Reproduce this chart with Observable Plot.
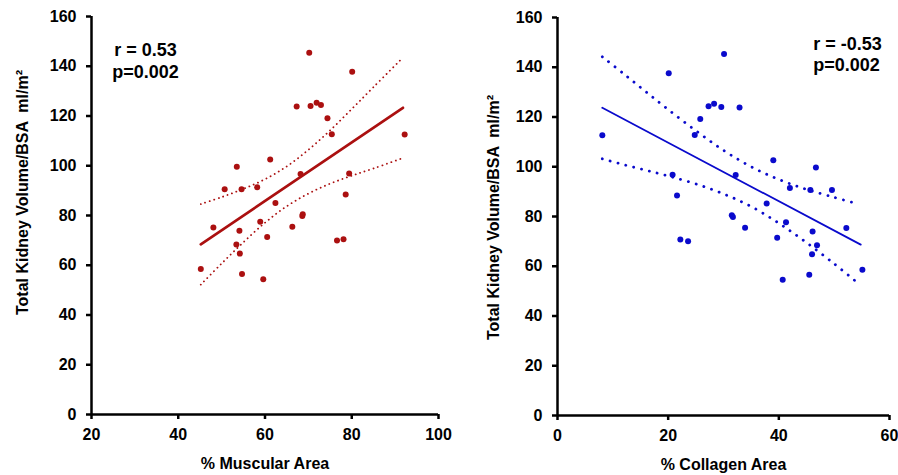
<!DOCTYPE html>
<html>
<head>
<meta charset="utf-8">
<script src="https://cdn.jsdelivr.net/npm/d3@7"></script>
<script src="https://cdn.jsdelivr.net/npm/@observablehq/plot@0.6"></script>
<style>
  html, body { margin: 0; padding: 0; background: #fff; }
  #wrap { display: flex; flex-direction: row; width: 898px; height: 475px; }
</style>
</head>
<body>
<div id="wrap"></div>
<script>
// ---- Data ----
const muscular = [45.2, 48.1, 50.7, 53.5, 53.4, 54.1, 54.2, 54.6, 54.7, 58.2, 58.9, 59.6, 60.5, 61.2, 62.4, 66.3, 67.3, 68.2, 68.6, 68.7, 70.2, 70.5, 71.9, 72.9, 74.4, 75.4, 76.6, 78.1, 78.6, 79.4, 80.1, 92.2];
const tkvLeft = [58.5, 75.2, 90.6, 99.6, 68.3, 73.9, 64.7, 90.6, 56.5, 91.4, 77.5, 54.4, 71.4, 102.5, 85.0, 75.5, 123.8, 96.7, 79.8, 80.5, 145.4, 124.0, 125.3, 124.4, 119.1, 112.7, 70.0, 70.5, 88.4, 96.9, 137.8, 112.6];

const collagen = [8.1, 20.1, 20.8, 21.6, 22.2, 23.6, 24.8, 25.8, 27.3, 28.3, 29.6, 30.1, 31.5, 31.7, 32.2, 32.9, 33.9, 37.8, 39.0, 39.7, 40.7, 41.3, 42.0, 45.5, 45.7, 46.0, 46.1, 46.7, 46.9, 49.6, 52.2, 55.1];
const tkvRight = [112.7, 137.6, 96.8, 88.4, 70.8, 70.1, 112.8, 119.2, 124.3, 125.3, 124.0, 145.3, 80.5, 79.8, 96.7, 123.8, 75.5, 85.2, 102.6, 71.5, 54.6, 77.7, 91.5, 56.6, 90.7, 64.8, 74.0, 99.7, 68.4, 90.7, 75.4, 58.6];

// regression lines (end points)
const leftFitX = [45.2, 91.8];
const leftFitY = [68.4, 123.3];
const rightFitX = [8.1, 54.8];
const rightFitY = [123.7, 68.7];

// confidence curves
const ciLeftX = [45.2, 50, 55, 60, 65, 70, 75, 80, 85, 91.3];
const ciLeftUp = [84.6, 87.4, 90.7, 94.6, 99.7, 106.4, 114.2, 122.8, 131.6, 142.6];
const ciLeftLo = [52.2, 60.7, 69.2, 77.1, 83.7, 88.8, 92.8, 96.0, 98.9, 102.8];

const ciRightX = [8.1, 12, 16, 20, 25, 30, 35, 40, 45, 50, 53.7];
const ciRightUp = [144.2, 137.3, 130.1, 123.0, 114.5, 106.6, 100.0, 94.9, 90.9, 87.7, 85.4];
const ciRightLo = [103.2, 100.8, 98.6, 96.3, 93.1, 89.1, 84.0, 77.3, 69.5, 61.0, 54.3];

// ticks & labels
const yTicks = [0, 20, 40, 60, 80, 100, 120, 140, 160];
const xTicksLeft = [20, 40, 60, 80, 100];
const xTicksRight = [0, 20, 40, 60];
const yLabel = "Total Kidney Volume/BSA  ml/m\u00B2";
const xLabelLeft = "% Muscular Area";
const xLabelRight = "% Collagen Area";
const statsLeft = [{x: 32.45, y: 146.6, t: "r = 0.53"}, {x: 32.45, y: 137.6, t: "p=0.002"}];
const statsRight = [{x: 46.2, y: 149.4, t: "r = -0.53"}, {x: 46.2, y: 140.7, t: "p=0.002"}];

const RED = "#ab1010";
const BLUE = "#0a0acc";
const FONT = "'Liberation Sans', Arial, sans-serif";

function panel(o) {
  const pts = o.xs.map((x, i) => ({x, y: o.ys[i]}));
  const fit = o.fitX.map((x, i) => ({x, y: o.fitY[i]}));
  const up = o.ciX.map((x, i) => ({x, y: o.ciUp[i]}));
  const lo = o.ciX.map((x, i) => ({x, y: o.ciLo[i]}));
  return Plot.plot({
    width: o.width,
    height: 475,
    marginLeft: o.ml,
    marginRight: o.mr,
    marginTop: o.mt,
    marginBottom: o.mb,
    style: {fontFamily: FONT, color: "#000", background: "transparent", overflow: "visible"},
    x: {domain: o.xDomain},
    y: {domain: [0, 160]},
    marks: [
      Plot.axisY({ticks: yTicks, tickSize: 5, tickPadding: 10, fontSize: 16, fontWeight: "bold", strokeWidth: 2.5, label: null}),
      Plot.axisX({ticks: o.xTicks, tickSize: 5, tickPadding: 9, fontSize: 16, fontWeight: "bold", strokeWidth: 2.5, label: null}),
      Plot.ruleX([o.xDomain[0]], {stroke: "#000", strokeWidth: 2.5}),
      Plot.ruleY([0], {stroke: "#000", strokeWidth: 2.5}),
      Plot.line(up, {x: "x", y: "y", stroke: o.color, strokeWidth: o.dotW, strokeDasharray: o.dash, strokeLinecap: "round", curve: "catmull-rom"}),
      Plot.line(lo, {x: "x", y: "y", stroke: o.color, strokeWidth: o.dotW, strokeDasharray: o.dash, strokeLinecap: "round", curve: "catmull-rom"}),
      Plot.line(fit, {x: "x", y: "y", stroke: o.color, strokeWidth: o.fitW}),
      Plot.dot(pts, {x: "x", y: "y", r: 3, fill: o.color, stroke: "none"}),
      Plot.text(o.stats, {x: "x", y: "y", text: "t", fontSize: 18, fontWeight: "bold", textAnchor: o.statAnchor, fill: "#000"}),
      Plot.text([o.xLabel], {frameAnchor: "bottom", dy: 49, lineAnchor: "middle", textAnchor: "middle", fontSize: 16, fontWeight: "bold", fill: "#000"}),
      Plot.text([yLabel], {frameAnchor: "left", dx: o.ylDx, dy: o.ylDy, rotate: -90, textAnchor: "middle", lineAnchor: "middle", fontSize: 16, fontWeight: "bold", fill: "#000"})
    ]
  });
}

const wrap = document.getElementById("wrap");
wrap.appendChild(panel({
  width: 450, ml: 91, mr: 12, mt: 16, mb: 61,
  xDomain: [20, 100], xTicks: xTicksLeft,
  xs: muscular, ys: tkvLeft, fitX: leftFitX, fitY: leftFitY,
  ciX: ciLeftX, ciUp: ciLeftUp, ciLo: ciLeftLo,
  color: RED, fitW: 2.7, dotW: 1.8, dash: "0.1 4.6",
  stats: statsLeft, statAnchor: "middle",
  xLabel: xLabelLeft, ylDx: -69, ylDy: -23
}));
wrap.appendChild(panel({
  width: 448, ml: 107, mr: 9, mt: 17, mb: 60,
  xDomain: [0, 60], xTicks: xTicksRight,
  xs: collagen, ys: tkvRight, fitX: rightFitX, fitY: rightFitY,
  ciX: ciRightX, ciUp: ciRightUp, ciLo: ciRightLo,
  color: BLUE, fitW: 1.8, dotW: 2.8, dash: "0.1 8",
  stats: statsRight, statAnchor: "start",
  xLabel: xLabelRight, ylDx: -64, ylDy: 1
}));
</script>
</body>
</html>
